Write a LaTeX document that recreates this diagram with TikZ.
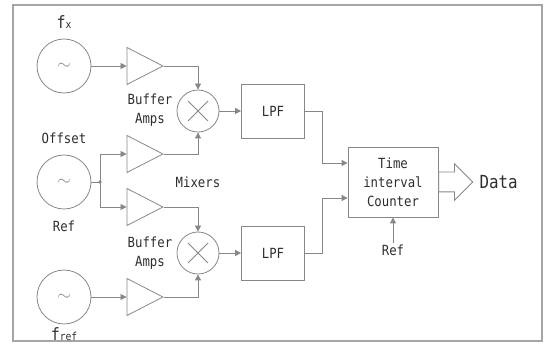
\documentclass[tikz,border=0pt]{standalone}
\usepackage{fontspec}
\newfontfamily\dmono[FakeStretch=0.88]{DejaVu Sans Mono}
\usetikzlibrary{arrows.meta,shapes.geometric,shapes.arrows,calc}
\definecolor{ln}{RGB}{135,135,135}
\definecolor{tx}{RGB}{45,45,45}
\definecolor{fr}{RGB}{165,165,165}
\begin{document}
\begin{tikzpicture}[x=1pt,y=-1pt,
  every node/.style={font=\dmono\fontsize{14}{19}\selectfont, text=tx},
  line/.style={draw=ln, line width=0.8pt},
  arr/.style={line, -{Triangle[length=6pt,width=6pt]}},
  src/.style={circle, draw=ln, line width=0.8pt, minimum size=54pt, inner sep=0pt, text=ln, font=\fontsize{17}{17}\selectfont},
  amp/.style={isosceles triangle, isosceles triangle stretches, draw=ln, line width=0.8pt, minimum width=37pt, minimum height=36pt, inner sep=0pt, anchor=apex},
  mix/.style={circle, draw=ln, line width=0.8pt, minimum size=42pt, inner sep=0pt},
  blk/.style={rectangle, draw=ln, line width=0.8pt, minimum width=63pt, minimum height=54pt, inner sep=0pt},
  lbl/.style={align=center, inner sep=1pt},
]
\useasboundingbox (0,0) rectangle (547,347);
\draw[fr, line width=1.5pt] (13,5) rectangle (542,341);

% sources
\node[src] (s1) at (64,66) {$\sim$};
\node[src] (s2) at (64,182) {$\sim$};
\node[src] (s3) at (64,297) {$\sim$};

% amplifiers
\node[amp] (a1) at (164,66) {};
\node[amp] (a2) at (164,154) {};
\node[amp] (a3) at (164,207) {};
\node[amp] (a4) at (164,297) {};

% mixers
\node[mix] (m1) at (198,111) {};
\node[mix] (m2) at (198,253) {};
\foreach \m in {m1,m2}{
  \draw[line] ($(\m)+(-10,-10)$) -- ($(\m)+(10,10)$);
  \draw[line] ($(\m)+(-10,10)$) -- ($(\m)+(10,-10)$);
}

% filters and counter
\node[blk] (l1) at (273,111) {LPF};
\node[blk] (l2) at (273,253) {LPF};
\node[blk, minimum width=90pt, minimum height=70pt, align=center] (tic) at (393,182) {Time\\interval\\Counter};

% output arrow
\node[single arrow, draw=ln, line width=0.8pt, fill=white, inner xsep=0pt, inner ysep=9.5pt,
      single arrow head extend=8.5pt, minimum height=34pt, anchor=west] (da) at (tic.east) {};
\node[font=\dmono\fontsize{18}{18}\selectfont, anchor=west, inner sep=1pt] (data) at ($(da.east)+(5,0)$) {Data};

% labels
\node[lbl] (fx) at (64,22) {\fontsize{17}{17}\selectfont f{\fontsize{11}{11}\selectfont x}};
\node[lbl] (off) at (64,138) {Offset};
\node[lbl] (refa) at (64,226) {Ref};
\node[lbl] (fref) at (64,334) {\fontsize{17}{17}\selectfont f{\fontsize{11}{11}\selectfont ref}};
\node[lbl] (buf1) at (150,110) {Buffer\\Amps};
\node[lbl] (buf2) at (150,253) {Buffer\\Amps};
\node[lbl] (mixl) at (198,182) {Mixers};
\node[lbl] (refb) at (393,250) {Ref};

% junction
\coordinate (j) at (100,182);
\fill[ln] (j) circle (1.8pt);

% connectors
\draw[arr] (s1.east) -- (a1.west);
\draw[arr] (a1.apex) -| (m1.north);
\draw[arr] (a2.apex) -| (m1.south);
\draw[line] (s2.east) -- (j);
\draw[arr] (j) |- (a2.west);
\draw[arr] (j) |- (a3.west);
\draw[arr] (a3.apex) -| (m2.north);
\draw[arr] (a4.apex) -| (m2.south);
\draw[arr] (s3.east) -- (a4.west);
\draw[arr] (m1.east) -- (l1.west);
\draw[arr] (m2.east) -- (l2.west);
\draw[arr] (l1.east) -- ++(17,0) |- ($(tic.west)+(0,-19)$);
\draw[arr] (l2.east) -- ++(17,0) |- ($(tic.west)+(0,16)$);
\draw[arr] (refb.north) -- (tic.south);
\end{tikzpicture}
\end{document}
